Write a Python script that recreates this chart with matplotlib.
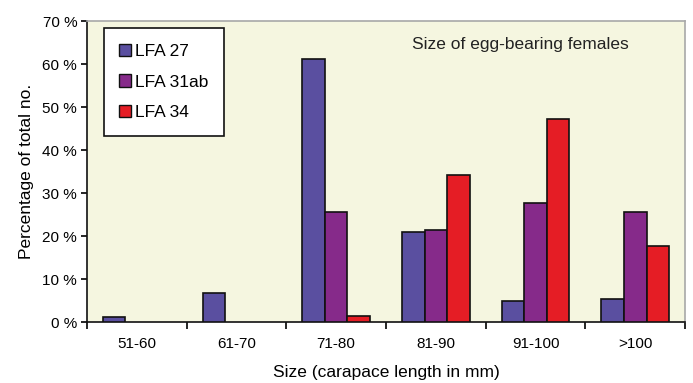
import numpy as np
import matplotlib
matplotlib.use("Agg")
import matplotlib.pyplot as plt
from matplotlib.ticker import FuncFormatter

plt.rcParams['font.family'] = ['Liberation Sans', 'DejaVu Sans']

# Data
categories = ['51-60', '61-70', '71-80', '81-90', '91-100', '>100']
lfa27 = [1.1, 6.7, 61.1, 21.0, 4.8, 5.3]
lfa31ab = [0.0, 0.0, 25.7, 21.5, 27.6, 25.7]
lfa34 = [0.0, 0.0, 1.5, 34.2, 47.3, 17.8]
series_names = ['LFA 27', 'LFA 31ab', 'LFA 34']
colors = ['#5A4FA0', '#862A8A', '#E51D25']

fig = plt.figure(figsize=(6.93, 3.83), dpi=100)
ax = fig.add_axes([0.1255, 0.159, 0.863, 0.786])
ax.set_facecolor('#F5F6E0')

x = np.arange(len(categories))
w = 0.227
for i, (vals, name, c) in enumerate(zip([lfa27, lfa31ab, lfa34], series_names, colors)):
    # empty bars get no outline, as in the original
    edges = ['#111111' if v > 0 else 'none' for v in vals]
    ax.bar(x + (i - 1) * w, vals, width=w, color=c, edgecolor=edges,
           linewidth=1.2, label=name, zorder=3)

ax.set_xlim(-0.5, len(categories) - 0.5)
ax.set_ylim(0, 70)
ax.set_yticks(np.arange(0, 71, 10))
ax.yaxis.set_major_formatter(FuncFormatter(lambda v, p: f'{int(v)} %'))
ax.set_xticks(x)
ax.set_xticklabels(categories)
ax.set_xticks(np.arange(-0.5, len(categories)), minor=True)
ax.tick_params(axis='x', which='major', length=0, pad=11, labelsize=11)
ax.tick_params(axis='x', which='minor', length=5, width=1.2, direction='out')
ax.tick_params(axis='y', length=4, width=1.2, direction='out', labelsize=11, pad=3)

for s in ['left', 'bottom']:
    ax.spines[s].set_color('#111111')
    ax.spines[s].set_linewidth(1.2)
for s in ['top', 'right']:
    ax.spines[s].set_color('#A8A8A8')
    ax.spines[s].set_linewidth(1.2)

ax.set_xlabel('Size (carapace length in mm)', fontsize=12.5, labelpad=10)
ax.set_ylabel('Percentage of total no.', fontsize=12.5, labelpad=6)

ax.text(0.725, 0.922, 'Size of egg-bearing females', transform=ax.transAxes,
        ha='center', va='center', fontsize=12.5, color='#222222')

leg = ax.legend(loc='upper left', bbox_to_anchor=(0.028, 0.977), fontsize=12.5,
                fancybox=False, framealpha=1, edgecolor='#111111',
                handlelength=0.7, handleheight=0.7, handletextpad=0.2,
                labelspacing=0.9, borderpad=0.9, borderaxespad=0)
leg.get_frame().set_linewidth(1.2)
for h in leg.legend_handles:
    h.set_edgecolor('#111111')
    h.set_linewidth(1.0)

fig.savefig('out.png', dpi=100)
